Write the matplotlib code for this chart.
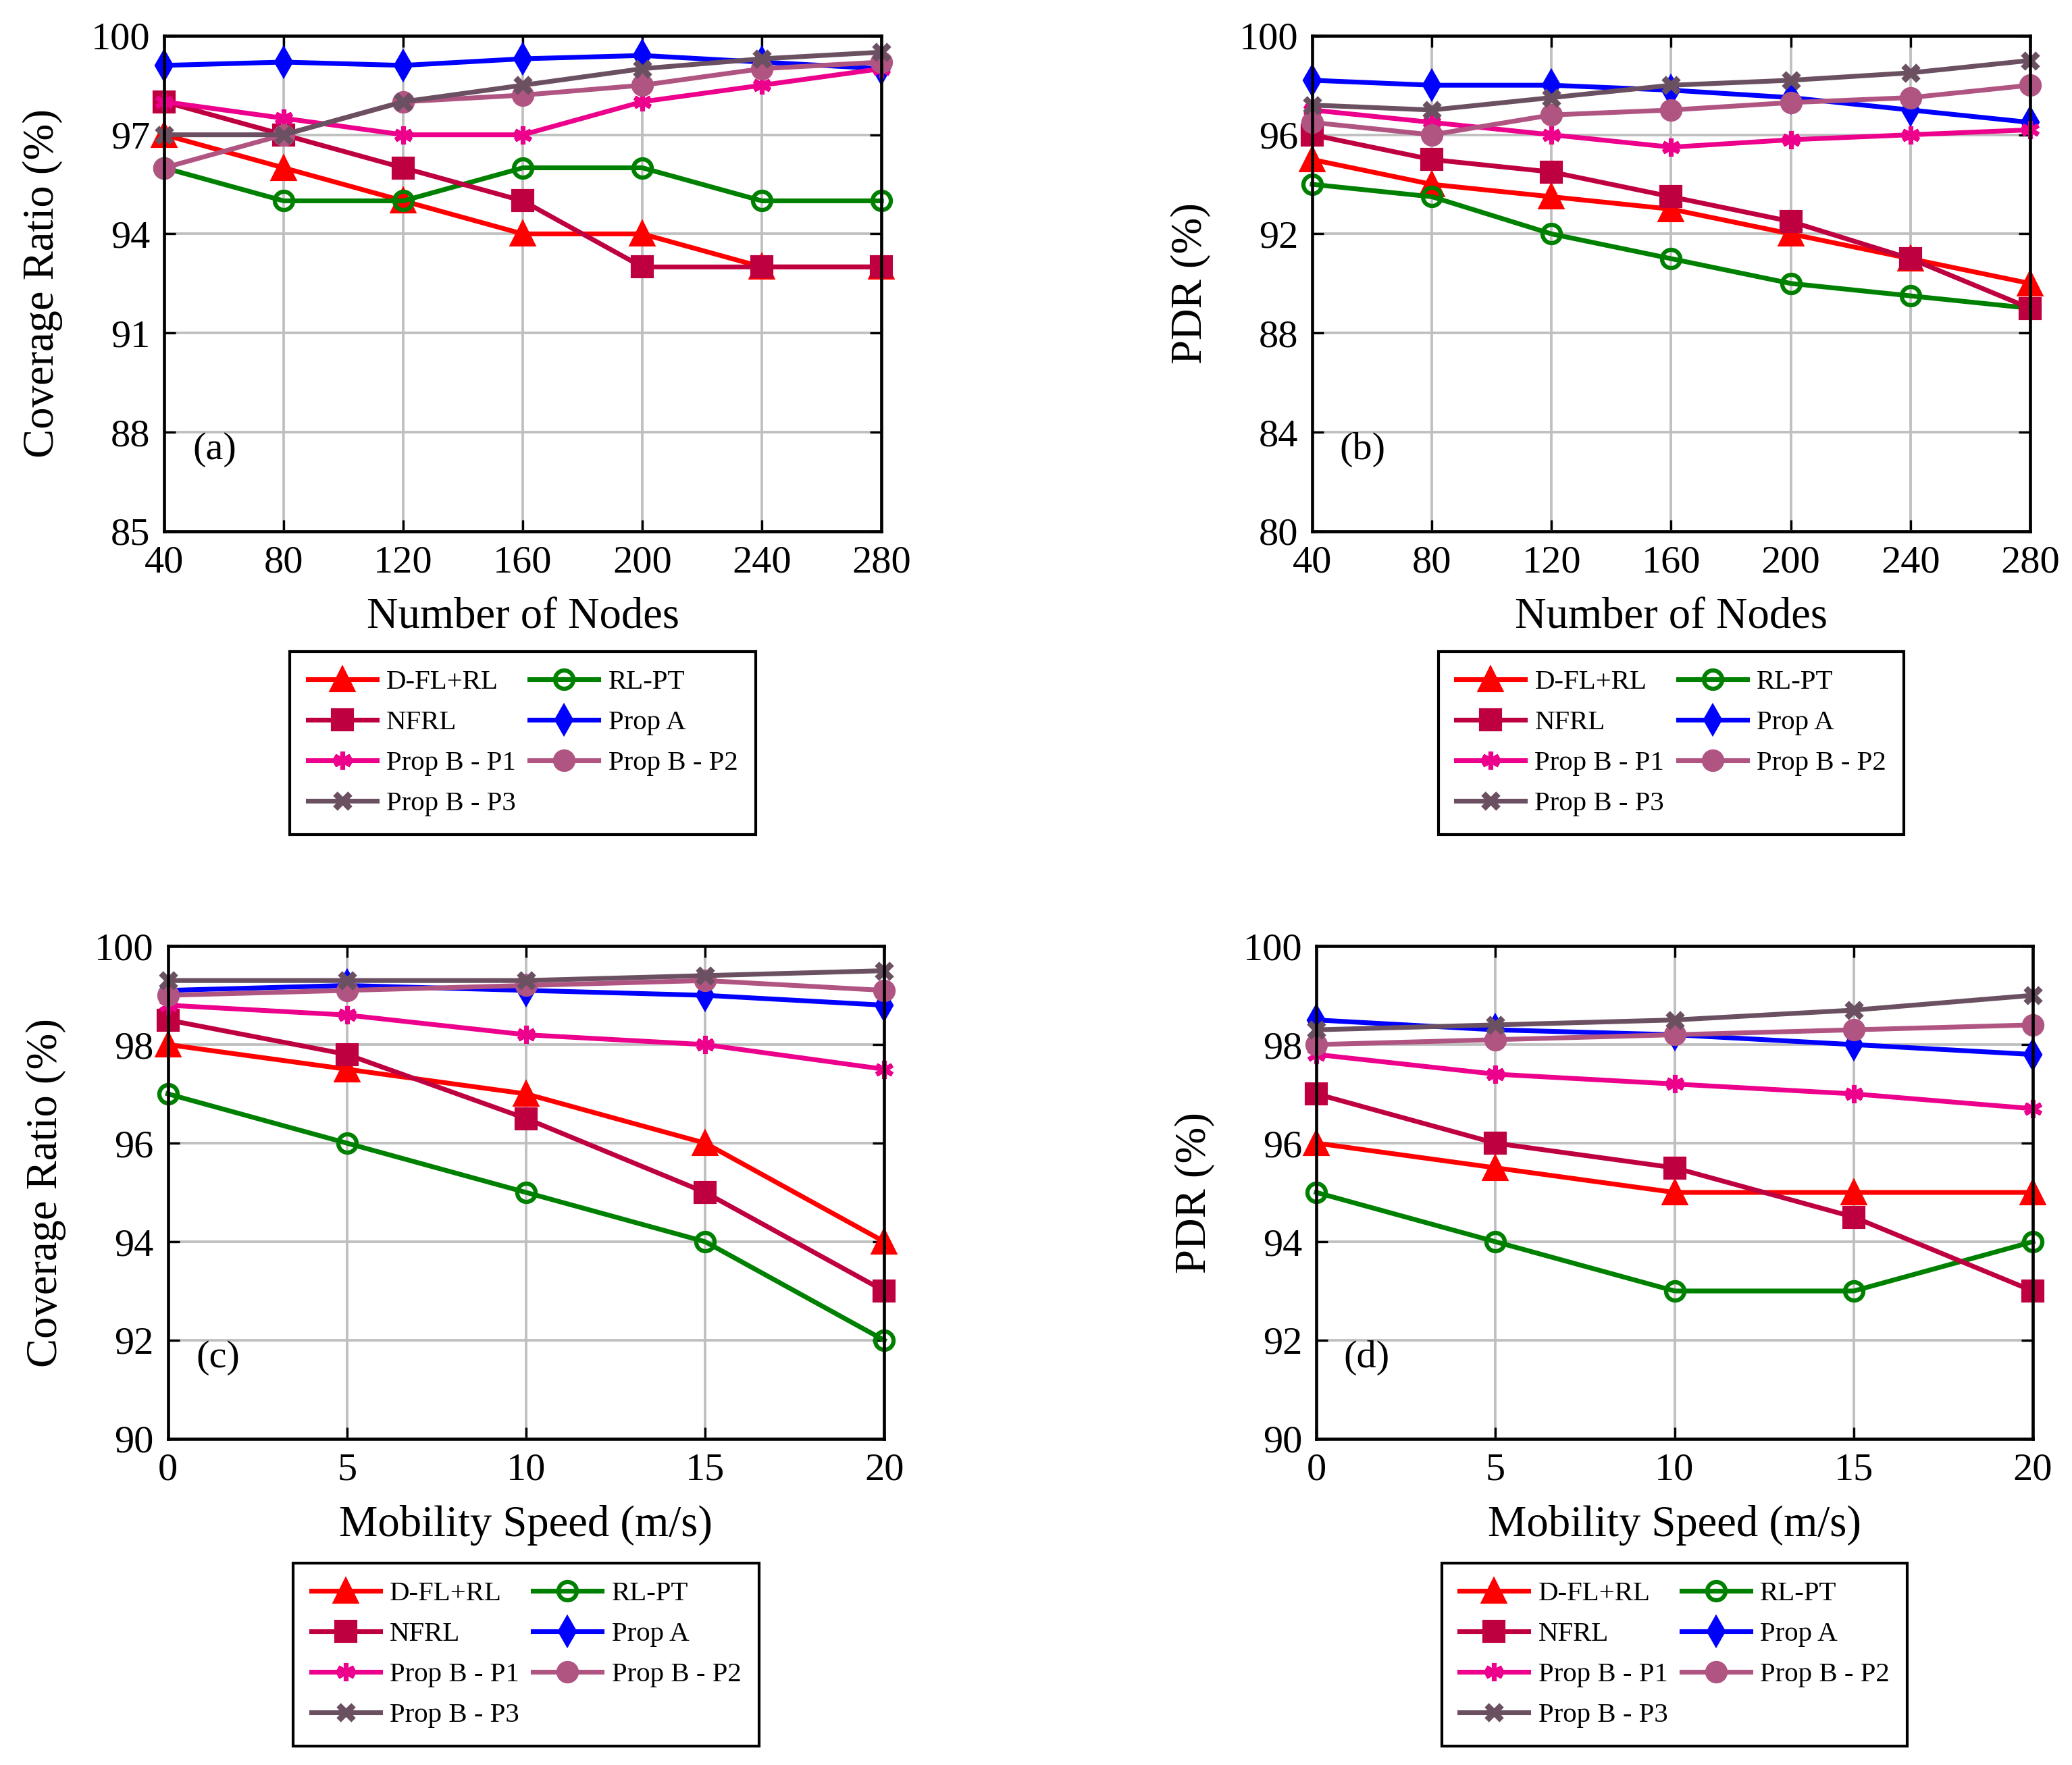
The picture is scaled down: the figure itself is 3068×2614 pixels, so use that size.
import numpy as np
import matplotlib
matplotlib.use('Agg')
import matplotlib.pyplot as plt

plt.rcParams['font.family'] = ['Liberation Serif', 'DejaVu Serif']

# x values
nodes = [40, 80, 120, 160, 200, 240, 280]
speeds = [0, 5, 10, 15, 20]

methods = ['D-FL+RL', 'RL-PT', 'NFRL', 'Prop A', 'Prop B - P1', 'Prop B - P2', 'Prop B - P3']

# (a) coverage ratio vs number of nodes
cov_nodes_dfl = [97, 96, 95, 94, 94, 93, 93]
cov_nodes_rlpt = [96, 95, 95, 96, 96, 95, 95]
cov_nodes_nfrl = [98, 97, 96, 95, 93, 93, 93]
cov_nodes_propa = [99.1, 99.2, 99.1, 99.3, 99.4, 99.2, 99.0]
cov_nodes_p1 = [98, 97.5, 97, 97, 98, 98.5, 99]
cov_nodes_p2 = [96, 97, 98, 98.2, 98.5, 99, 99.2]
cov_nodes_p3 = [97, 97, 98, 98.5, 99, 99.3, 99.5]

# (b) PDR vs number of nodes
pdr_nodes_dfl = [95, 94, 93.5, 93, 92, 91, 90]
pdr_nodes_rlpt = [94, 93.5, 92, 91, 90, 89.5, 89]
pdr_nodes_nfrl = [96, 95, 94.5, 93.5, 92.5, 91, 89]
pdr_nodes_propa = [98.2, 98, 98, 97.8, 97.5, 97, 96.5]
pdr_nodes_p1 = [97, 96.5, 96, 95.5, 95.8, 96, 96.2]
pdr_nodes_p2 = [96.5, 96, 96.8, 97, 97.3, 97.5, 98]
pdr_nodes_p3 = [97.2, 97, 97.5, 98, 98.2, 98.5, 99]

# (c) coverage ratio vs mobility speed
cov_speed_dfl = [98, 97.5, 97, 96, 94]
cov_speed_rlpt = [97, 96, 95, 94, 92]
cov_speed_nfrl = [98.5, 97.8, 96.5, 95, 93]
cov_speed_propa = [99.1, 99.2, 99.1, 99.0, 98.8]
cov_speed_p1 = [98.8, 98.6, 98.2, 98.0, 97.5]
cov_speed_p2 = [99.0, 99.1, 99.2, 99.3, 99.1]
cov_speed_p3 = [99.3, 99.3, 99.3, 99.4, 99.5]

# (d) PDR vs mobility speed
pdr_speed_dfl = [96, 95.5, 95, 95, 95]
pdr_speed_rlpt = [95, 94, 93, 93, 94]
pdr_speed_nfrl = [97, 96, 95.5, 94.5, 93]
pdr_speed_propa = [98.5, 98.3, 98.2, 98.0, 97.8]
pdr_speed_p1 = [97.8, 97.4, 97.2, 97.0, 96.7]
pdr_speed_p2 = [98.0, 98.1, 98.2, 98.3, 98.4]
pdr_speed_p3 = [98.3, 98.4, 98.5, 98.7, 99.0]

yticks_a = [85, 88, 91, 94, 97, 100]
yticks_b = [80, 84, 88, 92, 96, 100]
yticks_cd = [90, 92, 94, 96, 98, 100]

styles = {
    'D-FL+RL': dict(color='#FF0000', marker='^', ms=8, mfc='#FF0000'),
    'RL-PT': dict(color='#008000', marker='o', ms=6.5, mfc='none', mew=1.5),
    'NFRL': dict(color='#BF0040', marker='s', ms=7, mfc='#BF0040'),
    'Prop A': dict(color='#0000FF', marker='d', ms=7, mfc='#0000FF'),
    'Prop B - P1': dict(color='#EC008C', marker=(6, 2, 0), ms=6.5, mew=1.7),
    'Prop B - P2': dict(color='#B05582', marker='o', ms=7, mfc='#B05582'),
    'Prop B - P3': dict(color='#6B5061', marker='x', ms=5.5, mew=2.2),
}


def draw_panel(ax, x, series, yticks, xlabel, ylabel, tag, legend_y):
    lines = {}
    for name, y in zip(methods, series):
        st = styles[name]
        ln, = ax.plot(x, y, lw=1.7, clip_on=False, label=name, **st)
        lines[name] = ln
    ax.set_xlim(x[0], x[-1])
    ax.set_ylim(yticks[0], yticks[-1])
    ax.set_xticks(x)
    ax.set_yticks(yticks)
    ax.grid(True, color='#BFBFBF', lw=0.9)
    ax.set_axisbelow(True)
    ax.tick_params(direction='in', length=4, width=0.8, top=True, right=True,
                   labelsize=14, pad=5)
    for sp in ax.spines.values():
        sp.set_linewidth(1.1)
    ax.set_xlabel(xlabel, fontsize=15.5, labelpad=6)
    ax.set_ylabel(ylabel, fontsize=15.5, labelpad=10)
    ax.text(0.07, 0.165, tag, transform=ax.transAxes, fontsize=14,
            ha='center', va='center')
    order = ['D-FL+RL', 'NFRL', 'Prop B - P1', 'Prop B - P3',
             'RL-PT', 'Prop A', 'Prop B - P2']
    leg = ax.legend([lines[n] for n in order], order, ncol=2, loc='upper center',
                    bbox_to_anchor=(0.5, legend_y), borderaxespad=0, fontsize=9.8,
                    fancybox=False, framealpha=1, edgecolor='black',
                    handlelength=2.5, handletextpad=0.35, columnspacing=0.5,
                    labelspacing=0.55, borderpad=0.65)
    leg.get_frame().set_linewidth(1.0)


fig = plt.figure(figsize=(3068 / 300, 2614 / 300), dpi=300)
ax_a = fig.add_axes([0.0792, 0.699, 0.3462, 0.2808])
ax_b = fig.add_axes([0.6333, 0.699, 0.3465, 0.2808])
ax_c = fig.add_axes([0.0810, 0.1848, 0.3458, 0.2792])
ax_d = fig.add_axes([0.6353, 0.1848, 0.3458, 0.2792])

draw_panel(ax_a, nodes,
           [cov_nodes_dfl, cov_nodes_rlpt, cov_nodes_nfrl, cov_nodes_propa,
            cov_nodes_p1, cov_nodes_p2, cov_nodes_p3],
           yticks_a, 'Number of Nodes', 'Coverage Ratio (%)', '(a)', -0.2425)
draw_panel(ax_b, nodes,
           [pdr_nodes_dfl, pdr_nodes_rlpt, pdr_nodes_nfrl, pdr_nodes_propa,
            pdr_nodes_p1, pdr_nodes_p2, pdr_nodes_p3],
           yticks_b, 'Number of Nodes', 'PDR (%)', '(b)', -0.2425)
draw_panel(ax_c, speeds,
           [cov_speed_dfl, cov_speed_rlpt, cov_speed_nfrl, cov_speed_propa,
            cov_speed_p1, cov_speed_p2, cov_speed_p3],
           yticks_cd, 'Mobility Speed (m/s)', 'Coverage Ratio (%)', '(c)', -0.252)
draw_panel(ax_d, speeds,
           [pdr_speed_dfl, pdr_speed_rlpt, pdr_speed_nfrl, pdr_speed_propa,
            pdr_speed_p1, pdr_speed_p2, pdr_speed_p3],
           yticks_cd, 'Mobility Speed (m/s)', 'PDR (%)', '(d)', -0.252)

fig.savefig('out.png', dpi=300)
